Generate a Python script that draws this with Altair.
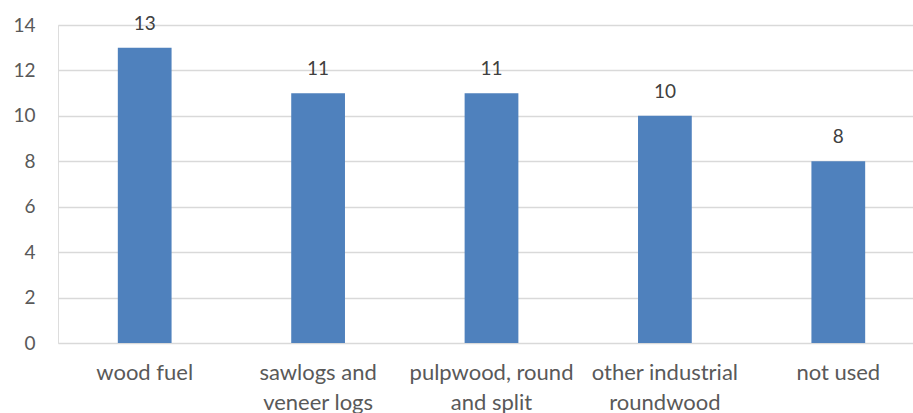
import altair as alt
import pandas as pd

# Roundwood use categories and their counts
categories = [
    "wood fuel",
    "sawlogs and|veneer logs",
    "pulpwood, round|and split",
    "other industrial|roundwood",
    "not used",
]
values = [13, 11, 11, 10, 8]

df = pd.DataFrame({"category": categories, "value": values})

FONT = "Lato"
TEXT_GREY = "#595959"
BAR_BLUE = "#4F81BD"

x_enc = alt.X(
    "category:N",
    sort=categories,
    title=None,
    scale=alt.Scale(range=[0, 867], paddingInner=0.69, paddingOuter=0.345),
    axis=alt.Axis(
        labelAngle=0,
        labelExpr="split(datum.label, '|')",
        labelFont=FONT,
        labelFontSize=22,
        labelColor=TEXT_GREY,
        labelPadding=19,
        labelLineHeight=30,
        ticks=False,
        domain=False,
        grid=False,
    ),
)

y_enc = alt.Y(
    "value:Q",
    title=None,
    scale=alt.Scale(domain=[0, 14], nice=False),
    axis=alt.Axis(
        values=[0, 2, 4, 6, 8, 10, 12, 14],
        labelFont=FONT,
        labelFontSize=19,
        labelColor=TEXT_GREY,
        labelPadding=23,
        ticks=False,
        domain=False,
        gridColor="#d9d9d9",
        gridWidth=1.5,
    ),
)

bars = alt.Chart(df).mark_bar(color=BAR_BLUE).encode(x=x_enc, y=y_enc)

labels = alt.Chart(df).mark_text(
    font=FONT, fontSize=19, color="#404040", baseline="middle", dy=-24
).encode(x=alt.X("category:N", sort=categories), y="value:Q", text="value:Q")

chart = (
    alt.layer(bars, labels)
    .properties(
        width=855,
        height=318,
        autosize=alt.AutoSizeParams(type="none"),
        padding={"left": 58, "top": 25, "right": 0, "bottom": 70},
    )
    .configure_view(stroke=None)
    .configure(background="white")
)

chart.save("out.html", embed_options={"renderer": "svg", "actions": False})
